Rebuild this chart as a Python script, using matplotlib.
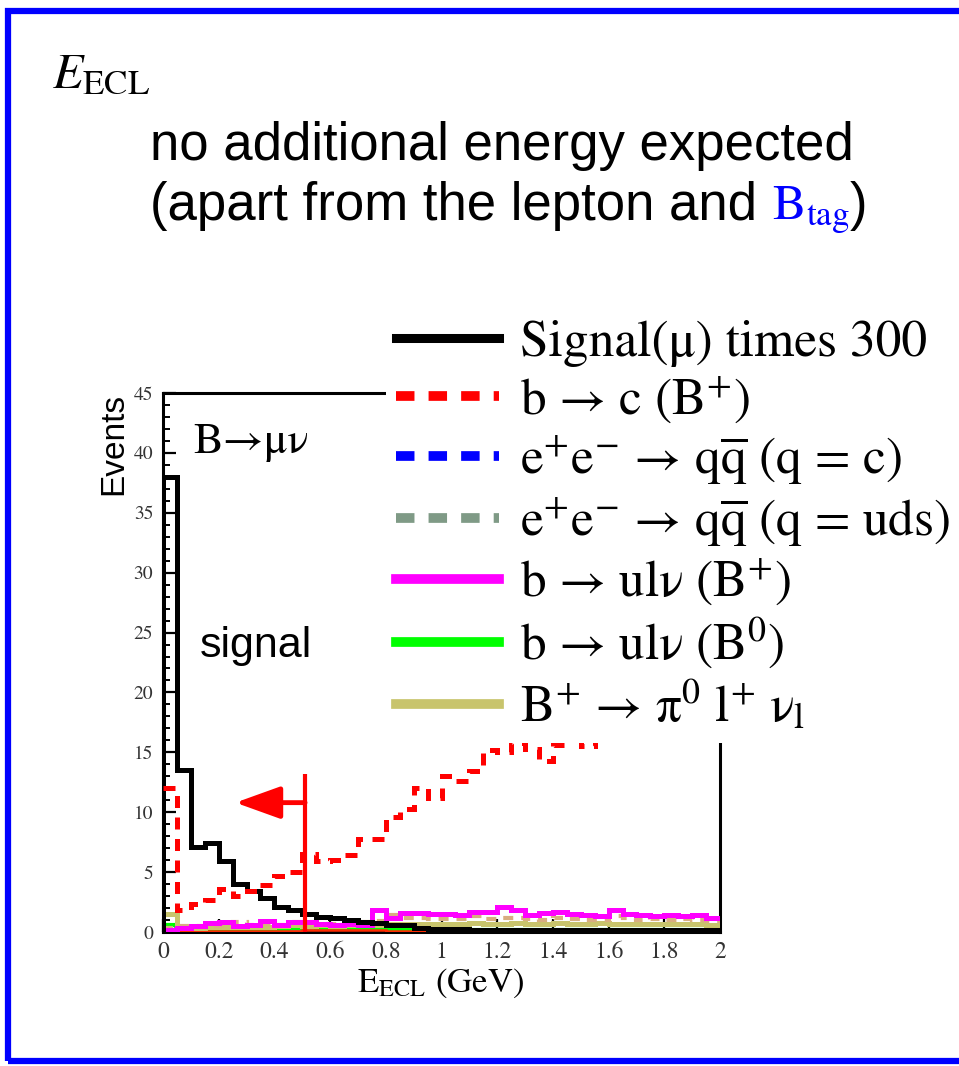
import numpy as np
import matplotlib
matplotlib.use('Agg')
import matplotlib.pyplot as plt
from matplotlib.lines import Line2D
from matplotlib.patches import Rectangle

plt.rcParams['mathtext.fontset'] = 'stix'
plt.rcParams['mathtext.default'] = 'rm'

# E_ECL distributions, 40 bins of 0.05 GeV
edges = np.linspace(0.0, 2.0, 41)

signal_x300 = [38.0, 13.5, 7.1, 7.4, 5.9, 4.0, 3.4, 2.8, 2.1, 1.8,
               1.5, 1.25, 1.15, 1.0, 0.8, 0.75, 0.6, 0.55, 0.35, 0.25,
               0.25, 0.25, 0.2, 0.2, 0.2, 0.2, 0.2, 0.2, 0.2, 0.2,
               0.2, 0.2, 0.2, 0.15, 0.15, 0.15, 0.15, 0.15, 0.15, 0.15]
b_to_c = [12.0, 1.8, 2.3, 2.7, 3.6, 3.0, 3.4, 3.9, 4.7, 5.0,
          6.5, 5.9, 6.0, 6.4, 7.8, 7.8, 9.6, 10.3, 12.0, 11.2,
          13.0, 12.6, 13.4, 15.2, 15.0, 15.8, 15.3, 14.3, 15.6, 16.5,
          15.5, 17.2, 18.0, 17.5, 18.5, 19.0, 18.2, 19.5, 18.8, 19.2]
qq_charm = [0.3, 0.15, 0.1, 0.1, 0.1, 0.1, 0.1, 0.1, 0.1, 0.1,
            0.1, 0.1, 0.1, 0.1, 0.1, 0.1, 0.1, 0.1, 0.1, 0.1,
            0.1, 0.1, 0.1, 0.1, 0.1, 0.1, 0.1, 0.1, 0.1, 0.1,
            0.1, 0.1, 0.1, 0.1, 0.1, 0.1, 0.1, 0.1, 0.1, 0.1]
qq_uds = [0.2, 0.2, 0.2, 0.2, 0.2, 0.2, 0.2, 0.2, 0.2, 0.2,
          0.2, 0.2, 0.2, 0.2, 0.2, 0.2, 0.2, 0.2, 0.2, 0.2,
          0.2, 0.15, 0.1, 0.1, 0.1, 0.1, 0.1, 0.1, 0.1, 0.1,
          0.1, 0.1, 0.1, 0.1, 0.1, 0.1, 0.1, 0.1, 0.1, 0.1]
ulnu_charged = [0.2, 0.3, 0.5, 0.75, 0.8, 0.5, 0.6, 0.9, 0.6, 0.8,
                0.8, 0.7, 0.6, 0.7, 0.6, 1.85, 1.2, 1.6, 1.6, 1.5,
                1.5, 1.4, 1.7, 1.7, 2.1, 1.8, 1.4, 1.6, 1.7, 1.5,
                1.4, 1.3, 1.8, 1.5, 1.4, 1.3, 1.4, 1.3, 1.45, 1.2]
ulnu_neutral = [0.6, 0.2, 0.2, 0.2, 0.25, 0.2, 0.2, 0.25, 0.2, 0.3,
                0.45, 0.3, 0.2, 0.2, 0.2, 0.2, 0.2, 0.15, 0.15, 0.15,
                0.15, 0.15, 0.15, 0.15, 0.15, 0.15, 0.15, 0.15, 0.15, 0.15,
                0.15, 0.15, 0.15, 0.15, 0.15, 0.15, 0.15, 0.15, 0.15, 0.15]
pi0_lnu = [1.5, 0.4, 0.35, 0.4, 0.45, 0.4, 0.45, 0.45, 0.5, 0.55,
           0.5, 0.55, 0.5, 0.55, 0.6, 0.6, 0.65, 0.65, 0.7, 0.7,
           0.7, 0.7, 0.75, 0.7, 0.7, 0.75, 0.7, 0.7, 0.75, 0.7,
           0.7, 0.75, 0.7, 0.7, 0.7, 0.7, 0.65, 0.7, 0.65, 0.6]
other_bkg = [0.3, 0.5, 0.5, 0.5, 0.6, 0.8, 0.6, 0.7, 0.6, 0.8,
             0.8, 0.7, 0.7, 0.7, 0.8, 0.9, 1.4, 1.2, 1.2, 1.1,
             1.1, 1.1, 1.3, 1.1, 1.2, 1.2, 1.1, 1.0, 1.2, 1.1,
             1.0, 1.0, 1.3, 1.2, 1.0, 1.1, 1.0, 1.1, 1.0, 0.9]
rare_bkg = [0.15, 0.1, 0.05, 0.05, 0.05, 0.05, 0.05, 0.05, 0.05, 0.05,
            0.15, 0.15, 0.15, 0.15, 0.15, 0.15, 0.05, 0.05, 0.05, 0.05,
            0.05, 0.05, 0.05, 0.05, 0.05, 0.05, 0.05, 0.05, 0.05, 0.05,
            0.05, 0.2, 0.05, 0.2, 0.2, 0.2, 0.05, 0.05, 0.05, 0.05]

legend_labels = ['Signal(\u03bc) times 300',
                 'b \u2192 c (B$^{+}$)',
                 'e$^{+}$e$^{-}$ \u2192 q$\\overline{\\mathrm{q}}$ (q = c)',
                 'e$^{+}$e$^{-}$ \u2192 q$\\overline{\\mathrm{q}}$ (q = uds)',
                 'b \u2192 ul\u03bd (B$^{+}$)',
                 'b \u2192 ul\u03bd (B$^{0}$)',
                 'B$^{+}$ \u2192 \u03c0$^{0}$ l$^{+}$ \u03bd$_{\\mathrm{l}}$']

xticks = [0, 0.2, 0.4, 0.6, 0.8, 1.0, 1.2, 1.4, 1.6, 1.8, 2.0]
xtick_labels = ['0', '0.2', '0.4', '0.6', '0.8', '1', '1.2', '1.4', '1.6', '1.8', '2']
yticks = [0, 5, 10, 15, 20, 25, 30, 35, 40, 45]

cut_energy = 0.51
cut_top = 13.2
arrow_tip = 0.26
arrow_level = 10.8

W, H = 959, 1066
fig = plt.figure(figsize=(W / 100, H / 100), dpi=100)

def fx(px):
    return px / W

def fy(py):
    return 1 - py / H

ax = fig.add_axes([fx(163), fy(932), (720 - 163) / W, (932 - 393) / H])

red = '#ff0000'
dash = (0, (2.4, 1.9))
ax.stairs(qq_uds, edges, color='#7f9a86', lw=3.8, zorder=2)
ax.stairs(qq_charm, edges, color='#0000ff', lw=2.5, linestyle=dash, zorder=1)
ax.stairs(rare_bkg, edges, color='#ff2a00', lw=1.8, baseline=None, zorder=3)
ax.stairs(ulnu_neutral, edges, color='#00ff00', lw=3, baseline=None, zorder=2)
ax.stairs(pi0_lnu, edges, color='#c8c46c', lw=3.6, baseline=None, zorder=3)
ax.stairs(other_bkg, edges, color='#d8ad80', lw=3, linestyle=dash, baseline=None, zorder=3)
ax.stairs(ulnu_charged, edges, color='#ff00ff', lw=3.6, baseline=None, zorder=4)
ax.stairs(signal_x300, edges, color='black', lw=3.6, zorder=5)
ax.stairs(b_to_c, edges, color=red, lw=3.6, linestyle=dash, baseline=None, zorder=6)

# selection cut with arrow pointing to the signal side
ax.vlines(cut_energy, 0, cut_top, color=red, lw=3, zorder=7)
ax.annotate('', xy=(arrow_tip, arrow_level), xytext=(cut_energy, arrow_level),
            arrowprops=dict(arrowstyle='-|>,head_length=1.25,head_width=0.45',
                            mutation_scale=22, color=red, lw=3.5,
                            shrinkA=0, shrinkB=0), zorder=7)

ax.set_xlim(0, 2)
ax.set_ylim(0, 45)
ax.set_xticks(xticks)
ax.set_xticklabels(xtick_labels)
ax.set_yticks(yticks)
ax.set_yticks(np.arange(0, 46, 1), minor=True)
ax.tick_params(axis='both', which='major', direction='in', length=9.5, width=1.6,
               colors='black', labelcolor='#333333')
ax.tick_params(axis='y', which='minor', direction='in', length=5, width=1.4)
ax.tick_params(axis='y', labelsize=14, pad=7)
ax.tick_params(axis='x', labelsize=17, pad=7)
for lab in ax.get_xticklabels() + ax.get_yticklabels():
    lab.set_family('STIXGeneral')
for sp in ax.spines.values():
    sp.set_linewidth(2.2)

ax.text(0.108, 40.0, 'B\u2192\u03bc\u03bd', family='STIXGeneral', fontsize=32,
        va='baseline')
ax.text(0.133, 23.0, 'signal', family='Liberation Sans', fontsize=31, va='baseline')

fig.text(fx(114), fy(393), 'Events', rotation=90, va='top', ha='center',
         family='Liberation Sans', fontsize=24)
fig.text(fx(441), fy(992), r'E$_{\mathrm{ECL}}$ (GeV)', ha='center', va='baseline',
         family='STIXGeneral', fontsize=25)

handles = [Line2D([], [], color='black', lw=6.5),
           Line2D([], [], color=red, lw=7, linestyle=(0, (1.9, 1.45))),
           Line2D([], [], color='#0000ff', lw=7, linestyle=(0, (1.9, 1.45))),
           Line2D([], [], color='#7f9a86', lw=7, linestyle=(0, (1.9, 1.45))),
           Line2D([], [], color='#ff00ff', lw=7),
           Line2D([], [], color='#00ff00', lw=7),
           Line2D([], [], color='#c8c46c', lw=7)]
fig.legend(handles, legend_labels, loc='upper left', bbox_to_anchor=(fx(386), fy(310)),
           prop={'family': 'STIXGeneral', 'size': 37}, frameon=True,
           facecolor='white', edgecolor='none', framealpha=1, fancybox=False,
           handlelength=2.0, handletextpad=0.4, labelspacing=0.14,
           borderpad=0.2, borderaxespad=0)

# heading
fig.text(fx(52), fy(88), r'$\mathit{E}_{\mathrm{ECL}}$', fontsize=36, va='baseline')
fig.text(fx(150), fy(160), 'no additional energy expected', family='Liberation Sans',
         fontsize=38, va='baseline')
renderer = fig.canvas.get_renderer()
x0 = fx(150)
for s, fam, col in [('(apart from the lepton and ', 'Liberation Sans', 'black'),
                    (r'$\mathrm{B}_{\mathrm{tag}}$', 'STIXGeneral', '#0000ff'),
                    (')', 'Liberation Sans', 'black')]:
    t = fig.text(x0, fy(220), s, family=fam, fontsize=38 if fam != 'STIXGeneral' else 36,
                 color=col, va='baseline')
    bb = t.get_window_extent(renderer)
    x0 = bb.x1 / W

# slide frame
fig.add_artist(Rectangle((fx(8), fy(1061)), (1000 - 8) / W, (1061 - 11) / H,
                         transform=fig.transFigure, fill=False,
                         edgecolor='#0000ff', lw=4.5, clip_on=False))

fig.savefig('out.png', dpi=100)
